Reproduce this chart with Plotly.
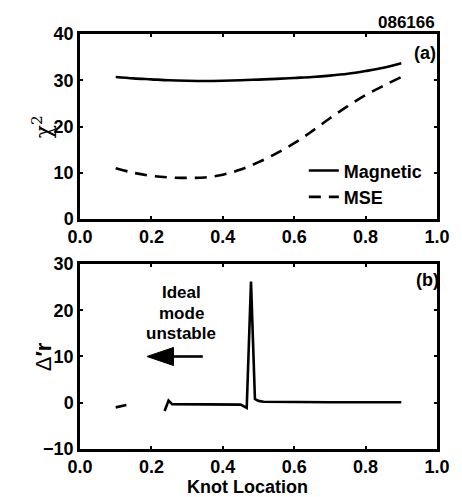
import plotly.graph_objects as go

# ---- data ----
knot_mag = [0.10, 0.15, 0.20, 0.25, 0.30, 0.35, 0.40, 0.45, 0.50, 0.55, 0.60, 0.65, 0.70, 0.75, 0.80, 0.85, 0.90]
chi2_mag = [30.7, 30.4, 30.2, 30.0, 29.9, 29.85, 29.9, 30.0, 30.15, 30.3, 30.5, 30.7, 31.0, 31.4, 32.0, 32.7, 33.7]

knot_mse = [0.10, 0.15, 0.20, 0.25, 0.30, 0.35, 0.40, 0.45, 0.50, 0.55, 0.60, 0.65, 0.70, 0.75, 0.80, 0.85, 0.90]
chi2_mse = [11.0, 10.0, 9.35, 9.0, 8.9, 9.0, 9.6, 10.7, 12.3, 14.2, 16.4, 19.0, 21.8, 24.4, 26.8, 28.8, 30.7]

knot_d1 = [0.100, 0.130]
dr_d1 = [-1.0, -0.5]

knot_d2 = [0.237, 0.248, 0.258, 0.30, 0.35, 0.40, 0.45, 0.467, 0.479, 0.490, 0.500, 0.514, 0.55, 0.60, 0.70, 0.80, 0.90]
dr_d2 = [-1.8, 0.45, -0.3, -0.3, -0.3, -0.3, -0.4, -1.1, 26.2, 0.8, 0.4, 0.2, 0.15, 0.1, 0.1, 0.1, 0.1]

x_ticks = [0.0, 0.2, 0.4, 0.6, 0.8, 1.0]
x_ticklabels = ["0.0", "0.2", "0.4", "0.6", "0.8", "1.0"]
y1_ticks = [0, 10, 20, 30, 40]
y2_ticks = [-10, 0, 10, 20, 30]
y2_ticklabels = ["\u221210", "0", "10", "20", "30"]

FAM = "Liberation Sans, Arial, sans-serif"
BOLD = dict(family=FAM, size=18, color="black", weight="bold")

fig = go.Figure()
fig.add_trace(go.Scatter(x=knot_mag, y=chi2_mag, mode="lines", name="Magnetic",
                         line=dict(color="black", width=2.6, shape="spline"),
                         xaxis="x", yaxis="y"))
fig.add_trace(go.Scatter(x=knot_mse, y=chi2_mse, mode="lines", name="MSE",
                         line=dict(color="black", width=2.6, dash="12px,8px", shape="spline"),
                         xaxis="x", yaxis="y"))
fig.add_trace(go.Scatter(x=knot_d1, y=dr_d1, mode="lines", showlegend=False,
                         line=dict(color="black", width=2.6), xaxis="x2", yaxis="y2"))
fig.add_trace(go.Scatter(x=knot_d2, y=dr_d2, mode="lines", showlegend=False,
                         line=dict(color="black", width=2.6), xaxis="x2", yaxis="y2"))

axis_common = dict(showline=True, linecolor="black", linewidth=2.5, mirror="ticks",
                   ticks="inside", ticklen=3, tickwidth=2, tickcolor="black",
                   showgrid=False, zeroline=False, tickfont=BOLD)

fig.update_layout(
    width=462, height=497,
    margin=dict(l=80, r=19, t=34, b=48),
    paper_bgcolor="white", plot_bgcolor="white",
    xaxis=dict(domain=[0, 1], range=[0, 1], tickvals=x_ticks, ticktext=x_ticklabels,
               anchor="y", **axis_common),
    yaxis=dict(domain=[0.554, 1], range=[0, 40], tickvals=y1_ticks, anchor="x", **axis_common),
    xaxis2=dict(domain=[0, 1], range=[0, 1], tickvals=x_ticks, ticktext=x_ticklabels,
                anchor="y2", **axis_common),
    yaxis2=dict(domain=[0, 0.4458], range=[-10, 30], tickvals=y2_ticks, ticktext=y2_ticklabels,
                anchor="x2", **axis_common),
    showlegend=True,
    legend=dict(x=0.627, y=0.639, xanchor="left", yanchor="middle", bgcolor="rgba(0,0,0,0)",
                font=BOLD, itemwidth=30, tracegroupgap=0),
)

ann = []
ann.append(dict(text="086166", x=1.0, y=1.0, xref="paper", yref="paper", xanchor="right",
                yanchor="bottom", yshift=0, showarrow=False, font=dict(BOLD, size=17)))
ann.append(dict(text="(a)", x=0.965, y=36, xref="x", yref="y", showarrow=False, font=BOLD))
ann.append(dict(text="(b)", x=0.972, y=26.5, xref="x2", yref="y2", showarrow=False, font=BOLD))
for txt, yy in [("Ideal", 23.75), ("mode", 19.4), ("unstable", 15.05)]:
    ann.append(dict(text=txt, x=0.284, y=yy, xref="x2", yref="y2", showarrow=False,
                    font=dict(BOLD, size=17)))
ann.append(dict(text="Knot Location", x=0.47, y=0, xref="paper", yref="paper", yanchor="top",
                yshift=-26, showarrow=False, font=BOLD))
ann.append(dict(text="\u03c7<sup>2</sup>", x=-0.152, y=20, xref="paper", yref="y",
                textangle=-90, showarrow=False,
                font=dict(family="DejaVu Serif, Liberation Serif, serif", size=22, color="black")))
ann.append(dict(text="\u0394<b>\u2032r</b>", x=-0.142, y=10, xref="paper", yref="y2",
                textangle=-90, showarrow=False,
                font=dict(family=FAM, size=22, color="black")))
fig.update_layout(annotations=ann)

fig.add_shape(type="line", x0=0.262, x1=0.344, y0=10, y1=10, xref="x2", yref="y2",
              line=dict(color="black", width=2.6))
fig.add_shape(type="path", path="M 0.1875,10 L 0.262,11.95 L 0.262,8.05 Z", xref="x2", yref="y2",
              fillcolor="black", line=dict(color="black", width=1))

fig.write_html("out.html")
